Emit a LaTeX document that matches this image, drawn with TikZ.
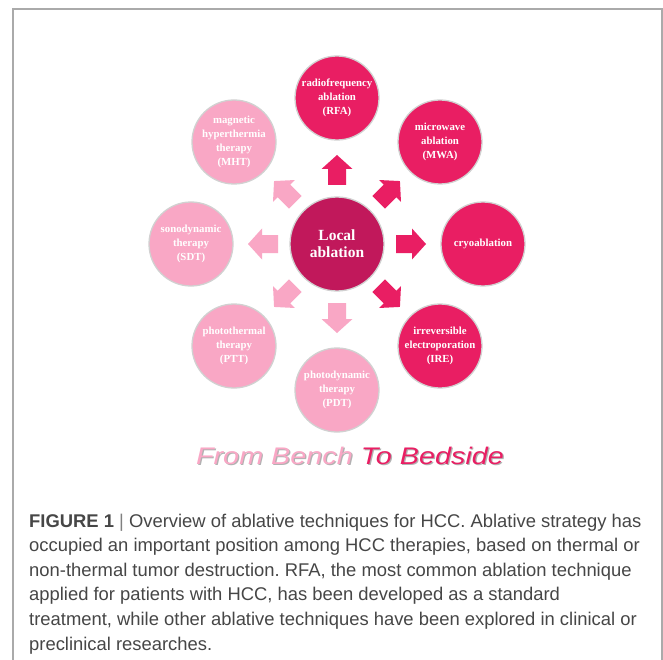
\documentclass[tikz,border=0pt]{standalone}
\usepackage{fontspec}
\setmainfont{Liberation Serif}
\newfontfamily\capfont{Liberation Sans}
\usetikzlibrary{calc}
\frenchspacing
\definecolor{centercol}{RGB}{193,24,91}
\definecolor{darkpink}{RGB}{233,30,99}
\definecolor{lightpink}{RGB}{249,167,197}
\definecolor{captext}{RGB}{70,70,70}
\definecolor{framecol}{RGB}{170,170,170}
\tikzset{
  outerc/.style={circle, minimum size=84pt, inner sep=0pt, draw=black!18, line width=1.3pt,
    text=white, align=center, font=\bfseries\fontsize{10.8}{14}\selectfont},
  centerc/.style={circle, minimum size=94pt, inner sep=0pt, draw=black!18, line width=1.3pt,
    text=white, align=center, font=\bfseries\fontsize{15.5}{17}\selectfont},
  capline/.style={anchor=base west, inner sep=0pt, text=captext, font=\capfont\fontsize{18.4}{20}\selectfont\frenchspacing}
}
\newcommand{\blockarrow}[2]{%
  \begin{scope}[shift={(337,244)}, rotate=#1]
    \fill[#2] (59,-9) -- (75,-9) -- (75,-15.5) -- (89,0) -- (75,15.5) -- (75,9) -- (59,9) -- cycle;
  \end{scope}}
\begin{document}
\begin{tikzpicture}[x=1pt,y=-1pt]
\useasboundingbox (0,0) rectangle (663,660);
\fill[white] (0,0) rectangle (663,660);
\draw[framecol, line width=1.2pt] (13,660) -- (13,9) -- (662,9) -- (662,660);

% block arrows
\blockarrow{90}{darkpink}
\blockarrow{45}{darkpink}
\blockarrow{0}{darkpink}
\blockarrow{-45}{darkpink}
\blockarrow{-90}{lightpink}
\blockarrow{-135}{lightpink}
\blockarrow{180}{lightpink}
\blockarrow{135}{lightpink}

% circles
\node[centerc, fill=centercol] (center) at (337,244) {Local\\ablation};
\node[outerc, fill=darkpink] (rfa) at (337,98) {radiofrequency\\ablation\\(RFA)};
\node[outerc, fill=darkpink] (mwa) at (440,142) {microwave\\ablation\\(MWA)};
\node[outerc, fill=darkpink] (cryo) at (483,244) {cryoablation};
\node[outerc, fill=darkpink] (ire) at (440,346) {irreversible\\electroporation\\(IRE)};
\node[outerc, fill=lightpink] (pdt) at (337,390) {photodynamic\\therapy\\(PDT)};
\node[outerc, fill=lightpink] (ptt) at (234,346) {photothermal\\therapy\\(PTT)};
\node[outerc, fill=lightpink] (sdt) at (191,244) {sonodynamic\\therapy\\(SDT)};
\node[outerc, fill=lightpink] (mht) at (234,142) {magnetic\\hyperthermia\\therapy\\(MHT)};

% slogan
\node[anchor=base, inner sep=0pt, text=black!30, font=\capfont\itshape\fontsize{24}{24}\selectfont] (sloganshadow) at (351.2,465.2) {\scalebox{1.2}[1]{From Bench\phantom{ To Bedside}}};
\node[anchor=base, inner sep=0pt, text=black!30, font=\capfont\itshape\fontsize{24}{24}\selectfont] (sloganshadowb) at (351.2,465.2) {\scalebox{1.2}[1]{\phantom{From Bench }To Bedside}};
\node[anchor=base, inner sep=0pt, font=\capfont\itshape\fontsize{24}{24}\selectfont] (slogan) at (350,464) {\scalebox{1.2}[1]{\textcolor{lightpink}{From Bench} \textcolor{darkpink}{To Bedside}}};

% caption
\node[capline] (c1) at (29,527) {\textbf{FIGURE 1} {\color{black!50}|} Overview of ablative techniques for HCC. Ablative strategy has};
\node[capline] (c2) at (29,551.6) {occupied an important position among HCC therapies, based on thermal or};
\node[capline] (c3) at (29,576.2) {non-thermal tumor destruction. RFA, the most common ablation technique};
\node[capline] (c4) at (29,600.8) {applied for patients with HCC, has been developed as a standard};
\node[capline] (c5) at (29,625.4) {treatment, while other ablative techniques have been explored in clinical or};
\node[capline] (c6) at (29,650) {preclinical researches.};
\end{tikzpicture}
\end{document}
